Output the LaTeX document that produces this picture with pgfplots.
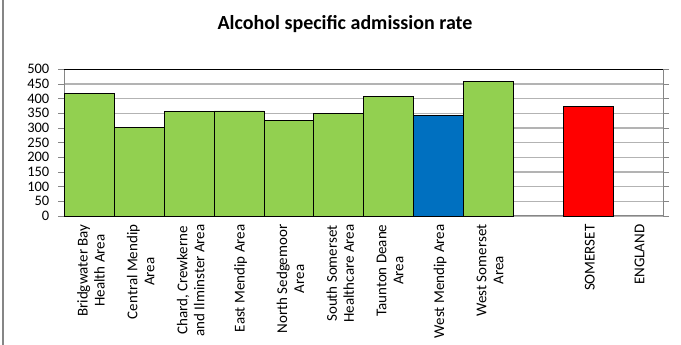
\documentclass[border=0pt]{standalone}
\usepackage{fontspec}
\setmainfont{Carlito}
\usepackage{pgfplots}
\pgfplotsset{compat=1.18}
\definecolor{barGreen}{HTML}{92D050}
\definecolor{barBlue}{HTML}{0070C0}
\definecolor{barRed}{HTML}{FF0000}
\definecolor{axGray}{HTML}{868686}
\definecolor{gridGray}{HTML}{B3B3B3}
\begin{document}
\begin{tikzpicture}[x=1pt,y=1pt]
\useasboundingbox[fill=white] (0,0) rectangle (681,345);
\draw[axGray, line width=1.3pt] (3,0) -- (3,345);
\node[font=\fontsize{20}{24}\selectfont\bfseries] at (345,321) {Alcohol specific admission rate};
\begin{axis}[
  at={(64.5pt,129pt)}, anchor=south west,
  scale only axis, width=598.5pt, height=146.7pt,
  xmin=-0.5, xmax=11.5, ymin=0, ymax=500,
  ytick={0,50,...,500},
  xtick={0,1,...,11},
  xticklabels={{Bridgwater Bay\\Health Area},{Central Mendip\\Area},{Chard, Crewkerne\\and Ilminster Area},{East Mendip Area},{North Sedgemoor\\Area},{South Somerset\\Healthcare Area},{Taunton Deane\\Area},{West Mendip Area},{West Somerset\\Area},{},{SOMERSET},{ENGLAND}},
  major x tick style={draw=none},
  extra x ticks={-0.5,0.5,...,11.5},
  extra x tick labels={},
  extra x tick style={major tick length=5pt, tick align=outside, tick style={axGray, line width=0.8pt}, grid=none},
  ytick align=outside, major tick length=6pt,
  ytick style={axGray, line width=0.8pt},
  ymajorgrids, grid style={gridGray, line width=1.3pt},
  axis line style={axGray, line width=1pt},
  yticklabel style={font=\fontsize{14.5}{15}\selectfont, inner xsep=2pt, inner ysep=0pt, xshift=-7pt},
  /pgf/number format/assume math mode=true,
  xticklabel style={rotate=90, anchor=east, align=center, font=\fontsize{15}{17}\selectfont, xshift=-5pt, yshift=-1.5pt},
  clip=false,
]
\addplot[ybar, bar width=1, bar shift=0pt, fill=barGreen, draw=black, line width=0.9pt] coordinates {
 (0,418) (1,303) (2,357) (3,358) (4,324) (5,351) (6,408) (8,460)};
\addplot[ybar, bar width=1, bar shift=0pt, fill=barBlue, draw=black, line width=0.9pt] coordinates {(7,341)};
\addplot[ybar, bar width=1, bar shift=0pt, fill=barRed, draw=black, line width=0.9pt] coordinates {(10,375)};
\draw[black, line width=1pt] (rel axis cs:0,1) -- (rel axis cs:1,1);
\end{axis}
\end{tikzpicture}
\end{document}
